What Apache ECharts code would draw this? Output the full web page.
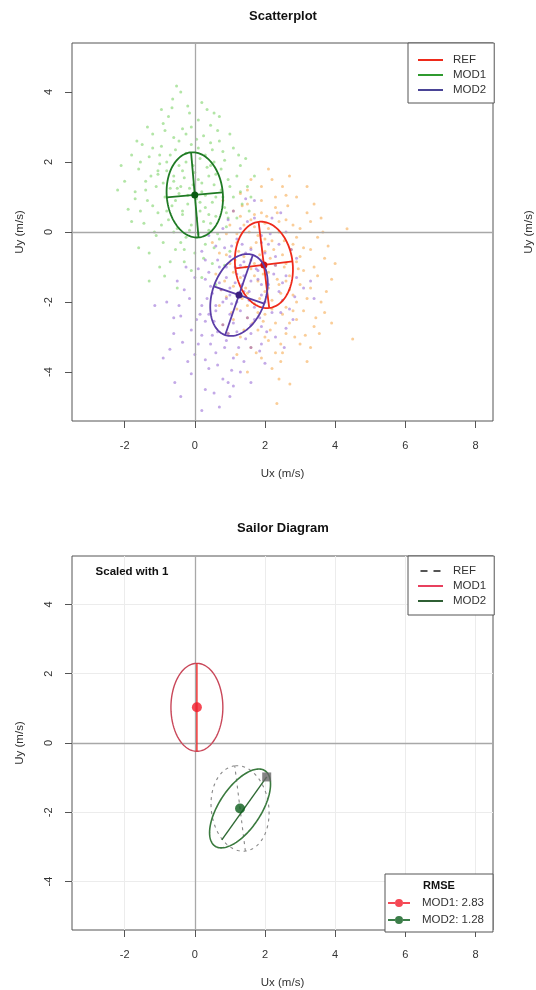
<!DOCTYPE html>
<html>
<head>
<meta charset="utf-8">
<script src="https://cdn.jsdelivr.net/npm/echarts@6/dist/echarts.min.js"></script>
<style>
html,body{margin:0;padding:0;background:#fff}
#chart{width:536px;height:990px}
</style>
</head>
<body>
<div id="chart"></div>
<script>
// ---- tick positions ----
const xTicks = [-2, 0, 2, 4, 6, 8];
const yTicks = [-4, -2, 0, 2, 4];

// ---- wind vector samples (Ux, Uy in m/s) ----
const refPoints = [
  [2.1,1.8],[1.6,1.5],[2.5,1.3],[1.3,1.1],[2.9,1.0],[1.9,0.9],[2.3,0.7],[1.1,0.6],[3.2,0.55],[1.7,0.5],
  [2.6,0.35],[2.0,0.25],[1.4,0.2],[3.0,0.1],[4.34,0.09],[2.4,0.0],[0.9,-0.05],[1.8,-0.1],[3.5,-0.15],[2.2,-0.25],
  [1.2,-0.3],[2.8,-0.35],[1.6,-0.45],[3.3,-0.5],[2.0,-0.55],[0.7,-0.6],[2.5,-0.65],[1.4,-0.7],[3.7,-0.75],[1.9,-0.8],
  [2.9,-0.85],[1.0,-0.9],[2.3,-0.95],[1.6,-1.05],[3.1,-1.1],[2.1,-1.15],[0.6,-1.2],[2.7,-1.25],[1.3,-1.3],[3.9,-1.35],
  [1.8,-1.4],[2.4,-1.5],[1.1,-1.55],[3.3,-1.6],[2.0,-1.7],[1.5,-1.75],[2.8,-1.8],[0.9,-1.85],[2.2,-1.95],[3.6,-2.0],
  [1.7,-2.05],[2.6,-2.15],[1.2,-2.2],[3.1,-2.25],[2.0,-2.35],[1.5,-2.45],[2.9,-2.5],[2.3,-2.6],[0.8,-2.65],[3.4,-2.7],
  [1.8,-2.8],[2.6,-2.9],[1.3,-3.0],[4.5,-3.06],[2.1,-3.1],[3.0,-3.2],[1.6,-3.3],[2.5,-3.45],[1.9,-3.6],[3.2,-3.7],
  [2.2,-3.9],[1.5,-4.0],[2.71,-4.34],[2.34,-4.9],[1.75,-0.3],[2.15,-0.75],[2.55,-1.0],[1.45,-1.0],[2.35,-1.35],[1.95,-1.2],
  [2.75,-0.5],[1.25,-0.55],[2.05,0.45],[2.45,-1.75],[1.85,-1.9],[3.4,-1.0],[0.85,-1.4],[2.65,0.75],[1.55,0.0],[2.9,-2.0],
  [1.65,-2.6],[3.7,-2.3],[2.3,1.0],[1.0,0.2],[2.8,0.2],[1.35,-1.9],[3.0,-1.5],[2.2,-2.2],[1.7,-0.9],[2.6,-1.4],
  [3.3,0.3],[1.9,1.3],[2.45,-3.2],[1.1,-2.5],[3.55,-2.9],[2.0,-0.2],[2.7,-2.6],[1.5,0.8],[3.8,-0.4],[2.1,-1.6],
  [1.5,1.2],[2.7,1.6],[3.4,0.8],[0.8,0.9],[2.2,1.5],[1.2,-0.05],[3.6,0.4],[2.9,-0.15],[0.5,-0.3],[1.9,0.55],
  [2.4,0.3],[3.1,-0.45],[1.3,0.45],[2.6,-0.9],[1.7,-1.25],[3.0,-0.7],[0.9,-0.65],[2.25,-0.5],[3.5,-1.25],[1.45,-1.6],
  [2.5,-2.35],[1.95,-2.55],[3.2,-1.9],[0.7,-2.1],[2.85,-3.0],[1.4,-2.8],[2.15,-2.8],[3.75,-1.7],[1.1,-1.15],[2.95,-1.05],
  [1.75,-3.45],[2.4,-4.2],[3.3,-3.3],[1.2,-3.5],[4.0,-0.9],[2.05,-1.45],[2.55,-0.25],[1.6,0.35],[3.2,1.3],[0.95,-2.9],
  [2.3,-3.45],[1.85,-0.65],[2.7,-1.65],[1.5,-2.1],[3.45,-2.45],[2.1,0.1],[1.15,-0.8],[2.8,-2.25],[1.7,0.15],[3.9,-2.6],
  [2.6,1.05],[1.35,0.75],[3.15,-2.95],[2.0,-3.0],[0.75,-1.65],[2.45,-3.7],[1.8,-2.3],[3.65,0.0],[2.35,0.55],[1.05,-2.3]
];
const mod1Points = [
  [-0.52,4.17],[-0.63,3.8],[-0.2,3.6],[0.1,3.2],[-0.9,3.1],[-0.35,2.95],[0.45,3.05],[-1.2,2.8],[-0.6,2.7],[0.25,2.75],
  [0.7,2.6],[-1.5,2.5],[-0.95,2.45],[-0.1,2.5],[0.5,2.35],[1.1,2.4],[-1.8,2.2],[-1.3,2.15],[-0.7,2.2],[-0.25,2.25],
  [0.15,2.1],[0.85,2.05],[-1.0,1.95],[-0.45,1.9],[0.35,1.85],[1.3,1.9],[-1.6,1.8],[-0.8,1.75],[0.0,1.7],[0.6,1.65],
  [-1.25,1.6],[-0.3,1.55],[0.95,1.5],[-2.0,1.45],[-0.6,1.45],[0.2,1.4],[0.55,1.35],[1.5,1.3],[-1.1,1.3],[-0.15,1.25],
  [0.75,1.2],[-1.7,1.15],[-0.45,1.1],[0.3,1.05],[1.1,1.0],[-0.85,1.0],[0.05,0.95],[-1.35,0.9],[0.5,0.85],[-0.2,0.8],
  [1.35,0.8],[-0.65,0.75],[0.85,0.7],[-1.9,0.65],[0.15,0.6],[-1.05,0.55],[-0.35,0.5],[0.6,0.45],[1.2,0.4],[-0.75,0.35],
  [0.25,0.3],[-1.45,0.25],[-0.1,0.2],[0.9,0.15],[-0.5,0.1],[0.4,0.05],[-1.15,0.0],[0.1,-0.05],[-0.25,-0.15],[0.7,-0.2],
  [-0.9,-0.3],[0.3,-0.35],[-0.55,-0.5],[-1.6,-0.45],[1.0,-0.55],[0.0,-0.6],[-0.3,-0.85],[0.5,-0.9],[-1.0,-1.0],[-0.86,-1.26],
  [0.2,-1.3],[-0.5,-1.6],[0.6,-1.5],[-0.4,1.3],[0.4,1.6],[-0.8,2.0],[0.1,2.4],[-0.15,3.4],[0.3,0.7],[-0.6,0.0],
  [0.65,2.9],[-1.4,1.2],[1.7,1.6],[-0.05,1.9],[0.45,0.25],[-1.2,2.4],[-0.35,0.6],[0.8,1.0],[-0.95,3.5],[-0.7,1.25],
  [0.2,1.15],[-0.25,2.0],[1.0,2.8],[-1.05,1.75],[0.55,2.0],[-0.45,2.6],[0.95,0.4],[-1.55,0.6],[0.35,3.5],[1.45,2.1],
  [-0.75,3.3],[0.2,3.7],[-0.4,4.0],[0.55,3.4],[-1.35,3.0],[-0.1,3.0],[0.8,2.3],[-1.65,2.6],[-0.55,2.35],[0.3,2.2],
  [-1.0,2.2],[1.25,2.2],[-2.1,1.9],[-0.35,1.75],[0.75,1.8],[-1.4,1.45],[0.1,1.5],[1.0,1.3],[-0.9,1.4],[-0.2,1.05],
  [0.6,1.0],[-1.2,0.75],[-0.55,0.9],[0.4,0.5],[1.55,0.6],[-0.95,0.2],[0.05,0.4],[-1.8,0.3],[0.65,-0.05],[-0.4,-0.3],
  [-1.3,-0.6],[0.25,-0.75],[-0.7,-0.85],[0.85,-0.95],[-0.1,-1.1],[-1.3,-1.4],[0.45,1.9],[-0.6,1.6],[1.2,1.6],[-0.25,2.8],
  [0.05,2.65],[-0.85,2.9],[0.45,2.55],[-1.55,2.0],[-0.05,1.35],[-0.5,1.25],[0.9,0.55],[-1.7,0.95],[1.3,1.15],[-0.15,0.05],
  [-2.2,1.2],[0.15,0.85],[-1.05,1.65],[0.7,3.3],[-0.65,3.55],[1.6,1.0],[-0.3,-0.5],[0.55,-0.45],[-1.1,-0.1],[-0.8,0.6]
];
const mod2Points = [
  [1.7,0.9],[1.1,0.6],[2.2,0.4],[1.5,0.3],[0.8,0.1],[2.6,0.0],[1.9,-0.1],[1.2,-0.2],[2.4,-0.35],[0.6,-0.4],
  [1.6,-0.5],[2.0,-0.6],[1.0,-0.7],[2.9,-0.75],[0.3,-0.8],[1.4,-0.85],[2.3,-0.95],[0.9,-1.0],[1.8,-1.1],[0.4,-1.15],
  [1.2,-1.2],[2.6,-1.25],[0.0,-1.3],[1.6,-1.4],[0.7,-1.45],[2.1,-1.5],[1.0,-1.6],[3.1,-1.6],[-0.3,-1.65],[1.4,-1.7],
  [0.5,-1.75],[1.9,-1.8],[0.9,-1.9],[2.5,-1.95],[-1.14,-2.1],[1.2,-2.0],[0.2,-2.1],[1.7,-2.15],[0.6,-2.25],[2.2,-2.3],
  [1.0,-2.35],[-0.4,-2.4],[1.5,-2.45],[0.3,-2.55],[2.8,-2.5],[0.8,-2.65],[1.9,-2.7],[-0.1,-2.8],[1.2,-2.85],[0.5,-2.95],
  [2.3,-3.0],[-0.71,-3.35],[0.9,-3.1],[0.1,-3.2],[1.6,-3.3],[0.6,-3.45],[1.1,-3.6],[-0.2,-3.7],[2.0,-3.75],[0.4,-3.9],
  [1.3,-4.0],[-0.57,-4.3],[0.8,-4.2],[0.3,-4.5],[1.0,-4.7],[0.2,-5.1],[1.35,-1.5],[1.05,-2.05],[1.55,-1.95],[0.75,-1.65],
  [1.8,-1.35],[1.15,-1.0],[0.55,-2.55],[1.7,-2.5],[2.0,-1.0],[0.95,-2.9],[1.45,-0.6],[0.35,-1.9],[2.7,-2.2],[0.0,-3.5],
  [1.25,-3.3],[3.4,-1.9],[0.65,-3.8],[1.9,-0.3],[-0.6,-2.9],[1.4,-1.25],[2.4,-1.7],[0.15,-2.35],[1.6,-2.9],[0.85,-0.45],
  [2.15,-0.05],[-0.25,-1.0],[1.05,-3.95],[2.6,-2.75],[0.45,-3.2],[1.3,0.1],[-0.8,-2.0],[1.85,-3.4],[0.7,-1.0],[2.9,-1.3],
  [1.45,0.95],[0.95,0.35],[2.45,0.55],[1.7,0.4],[0.4,-0.1],[2.1,-0.35],[1.05,-0.4],[2.75,-0.5],[0.2,-0.55],[1.6,-0.8],
  [0.65,-0.8],[2.25,-1.2],[1.3,-0.95],[0.1,-1.05],[3.3,-1.4],[0.9,-1.3],[1.9,-1.5],[-0.5,-1.4],[1.15,-1.45],[2.5,-1.45],
  [0.45,-1.55],[1.55,-1.7],[0.8,-2.0],[2.0,-2.0],[-0.15,-1.9],[1.3,-2.25],[2.45,-2.3],[0.4,-2.35],[1.85,-2.45],[-0.6,-2.45],
  [1.1,-2.6],[0.65,-2.85],[2.05,-2.85],[0.2,-2.95],[1.45,-3.05],[-0.35,-3.15],[0.85,-3.3],[1.9,-3.2],[0.3,-3.65],[1.4,-3.7],
  [-0.1,-4.05],[0.95,-4.3],[0.55,-4.6],[1.6,-4.3],[-0.4,-4.7],[0.7,-5.0],[1.25,-1.75],[0.6,-2.1],[1.75,-1.05],[2.3,-0.7],
  [0.3,-1.35],[1.0,-1.8],[1.6,-2.65],[-0.9,-3.6],[2.55,-3.3],[0.05,-2.5],[1.35,-0.35],[2.85,-1.85],[-0.45,-2.1],[1.1,-4.4]
];

// ---- spread ellipses: [centerX, centerY, semiMajor, semiMinor, angleDeg] ----
const refEllipse  = [1.97, -0.94, 1.24, 0.82, 97];
const mod1Ellipse = [0.00,  1.06, 1.22, 0.80, 95];
const mod2Ellipse = [1.26, -1.80, 1.21, 0.76, 71];

// ---- Sailor diagram ----
const sailorMod1Ellipse = [0.06,  1.03, 1.27, 0.74, 90];
const sailorMod2Ellipse = [1.29, -1.89, 1.30, 0.60, 57];
const sailorRefEllipse  = [1.29, -1.89, 1.24, 0.82, 97];
const sailorRefMean = [2.05, -0.98];
const sailorMod2Line = [[2.05, -0.98], [0.77, -2.80]];
const sailorMeans = [[0.06, 1.03], [1.29, -1.89]];
const rmseNames = ['MOD1', 'MOD2'];
const rmseValues = [2.83, 1.28];

const FONT = '"Liberation Sans", Arial, sans-serif';
const chart = echarts.init(document.getElementById('chart'), null, {renderer: 'canvas'});

function xAxisFor(gi) {
  return {
    type: 'value', gridIndex: gi, min: -3.5, max: 8.5,
    axisLine: {show: false, onZero: false}, splitLine: {show: false},
    axisTick: {show: true, customValues: xTicks, length: 7, lineStyle: {color: '#555'}},
    axisLabel: {customValues: xTicks, margin: 19, fontSize: 11, color: '#333', fontFamily: FONT},
    name: 'Ux (m/s)', nameLocation: 'middle', nameGap: 47,
    nameTextStyle: {fontSize: 11.5, color: '#333', fontFamily: FONT}
  };
}
function yAxisFor(gi) {
  return {
    type: 'value', gridIndex: gi, min: -5.4, max: 5.4,
    axisLine: {show: false, onZero: false}, splitLine: {show: false},
    axisTick: {show: true, customValues: yTicks, length: 7, lineStyle: {color: '#555'}},
    axisLabel: {customValues: yTicks, rotate: 90, margin: 18, fontSize: 11, color: '#333', fontFamily: FONT},
    name: 'Uy (m/s)', nameLocation: 'middle', nameGap: 46,
    nameTextStyle: {fontSize: 11.5, color: '#333', fontFamily: FONT}
  };
}

// Ellipse outline with optional principal axes and centre dot, mapped through the axes.
function ellipseSeries(name, params, gi, opt) {
  return {
    type: 'custom', name: name, xAxisIndex: gi, yAxisIndex: gi, z: opt.z || 5,
    itemStyle: {color: opt.color},
    data: [params],
    renderItem: function (p, api) {
      const cx = api.value(0), cy = api.value(1), a = api.value(2), b = api.value(3);
      const th = api.value(4) * Math.PI / 180, ct = Math.cos(th), st = Math.sin(th);
      const at = (u, v) => api.coord([cx + u * ct - v * st, cy + u * st + v * ct]);
      const ring = [];
      for (let k = 0; k <= 144; k++) {
        const t = k / 144 * 2 * Math.PI;
        ring.push(at(a * Math.cos(t), b * Math.sin(t)));
      }
      const lw = opt.width || 1.6;
      const kids = [{type: 'polyline', shape: {points: ring},
        style: {stroke: opt.color, lineWidth: lw, fill: 'none', lineDash: opt.dash || null}}];
      const seg = (p1, p2, col) => ({type: 'line', shape: {x1: p1[0], y1: p1[1], x2: p2[0], y2: p2[1]},
        style: {stroke: col, lineWidth: lw, lineDash: opt.dash || null}});
      if (opt.major) kids.push(seg(at(-a, 0), at(a, 0), opt.axisColor || opt.color));
      if (opt.minor) kids.push(seg(at(0, -b), at(0, b), opt.axisColor || opt.color));
      if (opt.dot) {
        const c = api.coord([cx, cy]);
        kids.push({type: 'circle', shape: {cx: c[0], cy: c[1], r: opt.dotR || 3.5}, style: {fill: opt.dot}});
      }
      return {type: 'group', children: kids};
    }
  };
}

const zeroLines = {
  silent: true, symbol: 'none', label: {show: false},
  lineStyle: {color: '#a8a8a8', width: 1.3, type: 'solid'},
  data: [{xAxis: 0}, {yAxis: 0}]
};
const sailorGridLines = {
  silent: true, symbol: 'none', label: {show: false},
  lineStyle: {color: '#ececec', width: 1, type: 'solid'},
  data: xTicks.filter(v => v !== 0).map(v => ({xAxis: v}))
    .concat(yTicks.filter(v => v !== 0).map(v => ({yAxis: v})))
};

const rmseLabels = rmseNames.map((n, i) => n + ': ' + rmseValues[i].toFixed(2));
const lineDotIcon = 'path://M0,4h7v2h-7zM15,4h7v2h-7zM7,5a4,4 0 1,0 8,0a4,4 0 1,0 -8,0z';
const dashIcon = 'path://M0,0h7v2h-7zM13,0h7v2h-7z';

const legendBase = {
  orient: 'vertical', backgroundColor: '#fff', borderColor: '#555', borderWidth: 1, z: 20,
  borderRadius: 0, itemWidth: 25, itemHeight: 2, itemGap: 1, selectedMode: false,
  textStyle: {fontSize: 11.5, lineHeight: 14, color: '#333', fontFamily: FONT, padding: [0, 0, 0, 5]}
};

const option = {
  animation: false,
  backgroundColor: '#fff',
  grid: [
    {left: 72, top: 43, width: 421, height: 378, show: true, borderColor: '#555', borderWidth: 1, backgroundColor: 'transparent'},
    {left: 72, top: 556, width: 421, height: 378, show: true, borderColor: '#555', borderWidth: 1, backgroundColor: 'transparent'}
  ],
  xAxis: [xAxisFor(0), xAxisFor(1)],
  yAxis: [yAxisFor(0), yAxisFor(1)],
  legend: [
    Object.assign({}, legendBase, {
      left: 408, top: 43, padding: [10, 8, 6, 10],
      data: [
        {name: 'REF', icon: 'rect', itemStyle: {color: '#ee2a1a'}},
        {name: 'MOD1', icon: 'rect', itemStyle: {color: '#2f9a2f'}},
        {name: 'MOD2', icon: 'rect', itemStyle: {color: '#4a4496'}}
      ]
    }),
    Object.assign({}, legendBase, {
      left: 408, top: 556, padding: [8, 8, 7, 10],
      formatter: n => n.replace('Sailor ', ''),
      data: [
        {name: 'Sailor REF', icon: dashIcon, itemStyle: {color: '#555'}},
        {name: 'Sailor MOD1', icon: 'rect', itemStyle: {color: '#e8405e'}},
        {name: 'Sailor MOD2', icon: 'rect', itemStyle: {color: '#2f5f34'}}
      ]
    }),
    Object.assign({}, legendBase, {
      left: 385, top: 874, padding: [22, 9, 5, 3], itemWidth: 22, itemHeight: 8, itemGap: 3,
      textStyle: {fontSize: 11.5, lineHeight: 14, color: '#333', fontFamily: FONT, padding: [0, 0, 0, 7]},
      data: [
        {name: rmseLabels[0], icon: lineDotIcon, itemStyle: {color: '#f21b2a'}},
        {name: rmseLabels[1], icon: lineDotIcon, itemStyle: {color: '#0b5e1c'}}
      ]
    })
  ],
  graphic: [
    {type: 'text', x: 283, y: 16, z: 100, style: {text: 'Scatterplot', font: 'bold 13px ' + FONT, fill: '#111', align: 'center', verticalAlign: 'middle'}},
    {type: 'text', x: 283, y: 528, z: 100, style: {text: 'Sailor Diagram', font: 'bold 13px ' + FONT, fill: '#111', align: 'center', verticalAlign: 'middle'}},
    {type: 'text', x: 132, y: 572, z: 100, style: {text: 'Scaled with 1', font: 'bold 11.5px ' + FONT, fill: '#111', align: 'center', verticalAlign: 'middle'}},
    {type: 'text', x: 439, y: 886, z: 100, style: {text: 'RMSE', font: 'bold 11px ' + FONT, fill: '#111', align: 'center', verticalAlign: 'middle'}},
    {type: 'text', x: 529, y: 232, z: 100, rotation: Math.PI / 2, style: {text: 'Uy (m/s)', font: '11.5px ' + FONT, fill: '#333', align: 'center', verticalAlign: 'middle'}}
  ],
  series: [
    // scatter clouds
    {type: 'scatter', name: 'REF samples', xAxisIndex: 0, yAxisIndex: 0, data: refPoints, symbolSize: 3, z: 2,
      itemStyle: {color: 'rgba(244,150,40,0.6)'}, markLine: zeroLines},
    {type: 'scatter', name: 'MOD1 samples', xAxisIndex: 0, yAxisIndex: 0, data: mod1Points, symbolSize: 3, z: 2,
      itemStyle: {color: 'rgba(95,200,70,0.6)'}},
    {type: 'scatter', name: 'MOD2 samples', xAxisIndex: 0, yAxisIndex: 0, data: mod2Points, symbolSize: 3, z: 2,
      itemStyle: {color: 'rgba(130,75,205,0.6)'}},
    // spread ellipses
    ellipseSeries('REF', refEllipse, 0, {color: '#ee2a1a', major: true, minor: true, dot: '#d01010', width: 1.8}),
    ellipseSeries('MOD1', mod1Ellipse, 0, {color: '#1f7a24', major: true, minor: true, dot: '#0a5a12', width: 1.8}),
    ellipseSeries('MOD2', mod2Ellipse, 0, {color: '#5a3ca6', major: true, minor: true, dot: '#3c1f80', width: 1.8}),

    // Sailor diagram
    {type: 'line', name: 'sailor grid', xAxisIndex: 1, yAxisIndex: 1, data: [], z: 1,
      markLine: sailorGridLines},
    {type: 'line', name: 'sailor axes', xAxisIndex: 1, yAxisIndex: 1, data: [], z: 2,
      markLine: zeroLines},
    ellipseSeries('Sailor REF', sailorRefEllipse, 1, {color: '#888', major: true, dash: [3, 4], width: 1.1}),
    ellipseSeries('Sailor MOD1', sailorMod1Ellipse, 1, {color: '#c9485a', major: true, axisColor: '#ee2a2a', width: 1.4}),
    ellipseSeries('Sailor MOD2', sailorMod2Ellipse, 1, {color: '#3a7a3e', width: 1.6}),
    {type: 'line', name: 'MOD2 offset', xAxisIndex: 1, yAxisIndex: 1, data: sailorMod2Line, showSymbol: false,
      lineStyle: {color: '#2f6a34', width: 1.4}, z: 6},
    {type: 'scatter', name: 'REF mean', xAxisIndex: 1, yAxisIndex: 1, data: [sailorRefMean], symbol: 'rect',
      symbolSize: 9, itemStyle: {color: '#666'}, z: 7},
    {type: 'scatter', name: rmseLabels[0], xAxisIndex: 1, yAxisIndex: 1, data: [sailorMeans[0]], symbolSize: 10,
      itemStyle: {color: '#f21b2a'}, z: 8},
    {type: 'scatter', name: rmseLabels[1], xAxisIndex: 1, yAxisIndex: 1, data: [sailorMeans[1]], symbolSize: 10,
      itemStyle: {color: '#0b5e1c'}, z: 8}
  ]
};
chart.setOption(option);
</script>
</body>
</html>
